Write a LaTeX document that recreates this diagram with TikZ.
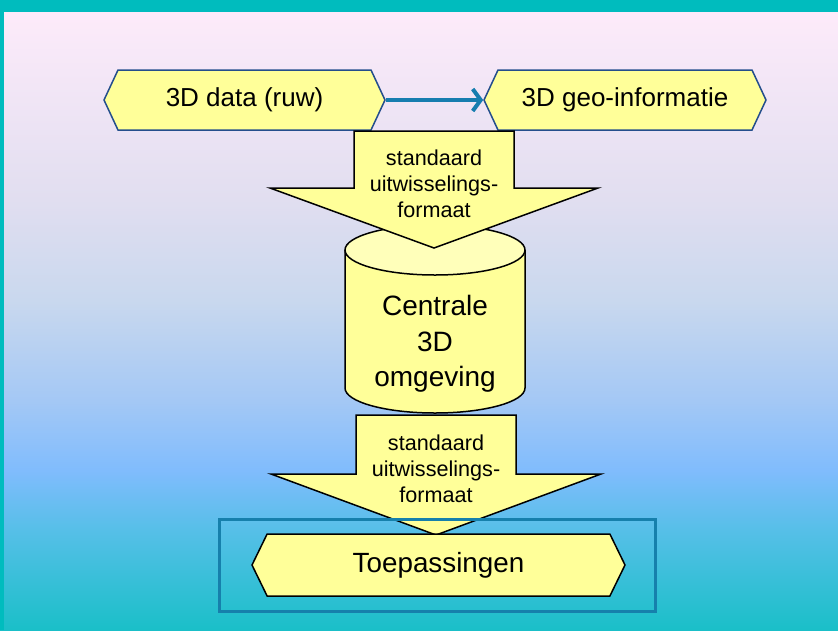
\documentclass[tikz,border=0pt]{standalone}
\usepackage{fontspec}
\setmainfont{Liberation Sans}
\usetikzlibrary{shapes.symbols,arrows.meta}
\definecolor{tealborder}{RGB}{0,188,190}
\definecolor{bgA}{HTML}{FDEBFA}
\definecolor{bgB}{HTML}{E1DEF0}
\definecolor{bgC}{HTML}{C9D8EE}
\definecolor{bgD}{HTML}{A4C8F5}
\definecolor{bgE}{HTML}{80BCFD}
\definecolor{bgF}{HTML}{56BFE8}
\definecolor{bgG}{HTML}{1ABFC8}
\definecolor{hexfill}{RGB}{255,255,153}
\definecolor{cyltop}{RGB}{255,255,186}
\definecolor{hexline}{RGB}{36,78,140}
\definecolor{arrowblue}{RGB}{22,125,175}
\definecolor{framblue}{RGB}{22,128,172}
\pgfdeclareverticalshading{bgshade}{100bp}{color(0bp)=(bgG); color(25bp)=(bgG); color(33.1bp)=(bgF); color(37.9bp)=(bgE); color(43.6bp)=(bgD); color(51.7bp)=(bgC); color(59.8bp)=(bgB); color(75bp)=(bgA); color(100bp)=(bgA)}
\tikzset{
  hexbox/.style={shape=signal, signal to=east and west, signal pointer angle=130,
    fill=hexfill, draw=hexline, line width=1.5pt, inner sep=0pt,
    font=\fontsize{26}{31}\selectfont},
  blockarrow/.style={fill=hexfill, draw=black, line width=1.5pt, line join=miter},
  arrowlabel/.style={align=center, font=\fontsize{21.6}{26}\selectfont, inner sep=0pt},
  cyllabel/.style={align=center, font=\fontsize{28}{35.5}\selectfont, inner sep=0pt},
  conn/.style={draw=arrowblue, line width=4pt, -{Straight Barb[length=8pt,width=22pt]}},
}
\begin{document}
\begin{tikzpicture}[x=1pt,y=-1pt]
\useasboundingbox (0,0) rectangle (838,630);
% background
\shade[shading=bgshade] (0,12) rectangle (838,630);
\fill[tealborder] (0,0) rectangle (838,12);
\fill[tealborder] (0,0) rectangle (4,630);
% top hexagons
\node[hexbox, minimum width=281pt, minimum height=60pt] (h1) at (244.5,100) {3D data (ruw)};
\node[hexbox, minimum width=282pt, minimum height=60pt] (h2) at (625,100) {3D geo-informatie};
\draw[conn] (h1.east) -- (h2.west);
% cylinder
\fill[hexfill] (345,250) -- (345,388) arc[start angle=180, end angle=360, x radius=90, y radius=-25] -- (525,250) -- cycle;
\draw[line width=1.5pt] (345,250) -- (345,388) arc[start angle=180, end angle=360, x radius=90, y radius=-25] -- (525,250);
\draw[fill=cyltop, line width=1.5pt] (435,250) ellipse[x radius=90, y radius=25];
\node[cyllabel] (cyl) at (435,344) {Centrale\\3D\\omgeving};
% block arrow 1
\draw[blockarrow] (354,131) -- (514,131) -- (514,188) -- (598,188) -- (434,248) -- (270,188) -- (354,188) -- cycle;
\node[arrowlabel] (a1) at (434,184) {standaard\\uitwisselings-\\formaat};
% block arrow 2
\draw[blockarrow] (356,415) -- (516,415) -- (516,474) -- (601,474) -- (436,535) -- (271,474) -- (356,474) -- cycle;
\node[arrowlabel] (a2) at (436,469) {standaard\\uitwisselings-\\formaat};
% frame and bottom hexagon
\draw[framblue, line width=3pt] (219,519) rectangle (655,611);
\node[hexbox, draw=black, signal pointer angle=128, minimum width=373pt, minimum height=62pt,
  font=\fontsize{27.8}{33}\selectfont] (h3) at (438.5,565) {Toepassingen};
\end{tikzpicture}
\end{document}
